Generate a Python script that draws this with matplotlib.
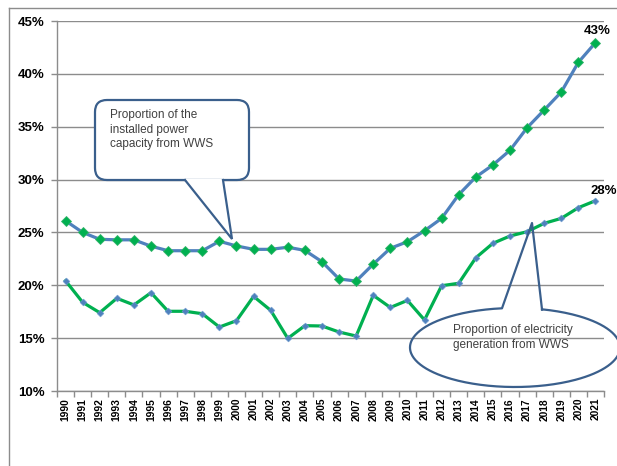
import numpy as np
import matplotlib
matplotlib.use("Agg")
import matplotlib.pyplot as plt
from matplotlib.patches import FancyBboxPatch, Polygon
from matplotlib.lines import Line2D

years = [str(y) for y in range(1990, 2022)]
capacity = [26.1, 25.0, 24.35, 24.3, 24.3, 23.7, 23.27, 23.27, 23.27, 24.16,
            23.72, 23.4, 23.4, 23.6, 23.3, 22.23, 20.6, 20.4, 22.0, 23.5,
            24.12, 25.16, 26.33, 28.57, 30.24, 31.38, 32.77, 34.9, 36.58, 38.28,
            41.09, 42.95]
generation = [20.43, 18.39, 17.41, 18.77, 18.14, 19.3, 17.54, 17.54, 17.31, 16.05,
              16.65, 18.95, 17.63, 14.98, 16.18, 16.15, 15.58, 15.2, 19.05, 17.9,
              18.57, 16.72, 19.96, 20.19, 22.6, 23.97, 24.66, 25.07, 25.86, 26.33,
              27.34, 28.0]
yticks = [10, 15, 20, 25, 30, 35, 40, 45]
end_labels = ["43%", "28%"]
capacity_text = "Proportion of the\ninstalled power\ncapacity from WWS"
generation_text = "Proportion of electricity\ngeneration from WWS"

W, H = 617, 466
plt.rcParams['font.family'] = ['Liberation Sans', 'DejaVu Sans']
fig = plt.figure(figsize=(W / 100, H / 100), dpi=100)

def px(x, y):
    return (x / W, 1 - y / H)

ax = fig.add_axes([57 / W, 1 - 391 / H, (604 - 57) / W, (391 - 21) / H])
x = np.arange(len(years))

BLUE = '#4F81BD'
GREEN = '#00B050'
ax.plot(x, capacity, color=BLUE, lw=2.3, marker='D', ms=5.5,
        markerfacecolor=GREEN, markeredgecolor='#33b36a', markeredgewidth=0.6, zorder=4)
ax.plot(x, generation, color=GREEN, lw=2.3, marker='D', ms=3.5,
        markerfacecolor=BLUE, markeredgecolor='#6f9bd0', markeredgewidth=0.4, zorder=4)

ax.set_xlim(-0.5, len(years) - 0.5)
ax.set_ylim(10, 45)
ax.set_yticks(yticks)
ax.set_yticklabels([f"{v}%" for v in yticks], fontsize=9.5, fontweight='bold')
ax.set_xticks(x)
ax.set_xticklabels(years, rotation=90, fontsize=7.4, fontweight='bold')
ax.set_xticks(np.arange(-0.5, len(years)), minor=True)
ax.tick_params(axis='x', which='major', length=0, pad=5)
ax.tick_params(axis='x', which='minor', length=4, color='#8c8c8c', width=1)
ax.tick_params(axis='y', length=4, color='#8c8c8c', width=1, pad=5)
ax.yaxis.grid(True, color='#8c8c8c', lw=1.0)
ax.set_axisbelow(True)
for s in ['top', 'right']:
    ax.spines[s].set_visible(False)
for s in ['left', 'bottom']:
    ax.spines[s].set_color('#8c8c8c')
    ax.spines[s].set_linewidth(1.0)

ax.annotate(end_labels[0], (x[-1], capacity[-1]), xytext=(1, 4), textcoords='offset points',
            ha='center', va='bottom', fontsize=9.5, fontweight='bold', zorder=6)
ax.annotate(end_labels[1], (x[-1], generation[-1]), xytext=(6, 3), textcoords='offset points',
            ha='center', va='bottom', fontsize=9.5, fontweight='bold', zorder=6)

# outer frame
fig.add_artist(Line2D([px(9, 8)[0], 1], [px(9, 8)[1]] * 2, color='#8c8c8c', lw=1.0))
fig.add_artist(Line2D([px(9, 8)[0]] * 2, [px(9, 8)[1], 0], color='#8c8c8c', lw=1.0))

EDGE = '#3A5F8C'
# rectangle callout
bx0, by0, bx1, by1 = 95, 100, 249, 180
box = FancyBboxPatch(px(bx0 + 12, by1 - 12), (bx1 - bx0 - 24) / W, (by1 - by0 - 24) / H,
                     boxstyle=f"round,pad={12 / W}", transform=fig.transFigure,
                     facecolor='white', edgecolor=EDGE, lw=1.6, zorder=7,
                     mutation_aspect=W / H)
fig.add_artist(box)
ptr = Polygon([px(185, 179), px(232, 239), px(223, 179)], closed=True,
              transform=fig.transFigure, facecolor='white', edgecolor='none', zorder=8)
fig.add_artist(ptr)
fig.add_artist(Line2D([px(185, 180)[0], px(232, 239)[0], px(223, 180)[0]],
                      [px(185, 180)[1], px(232, 239)[1], px(223, 180)[1]],
                      color=EDGE, lw=1.6, zorder=9, solid_joinstyle='miter'))
fig.text(*px(110, 109), capacity_text, ha='left', va='top', fontsize=8.5,
         color='#404040', linespacing=1.3, zorder=10)

# ellipse callout
cx, cy, rx, ry = 515, 347.5, 105, 39.5
xl, xr = 502, 542
tl = np.arccos((xl - cx) / rx)
tr = np.arccos((xr - cx) / rx)
th = np.linspace(-tr, 2 * np.pi - tl, 300)
ex = cx + rx * np.cos(th)
ey = cy + ry * np.sin(th)
pts = [(a, b) for a, b in zip(ex, ey)]
pts = pts + [(532, 223)] + [pts[0]]
fx = [p[0] / W for p in pts]
fy = [1 - p[1] / H for p in pts]
fig.add_artist(Line2D(fx, fy, color=EDGE, lw=1.6, zorder=9))
fig.text(*px(453, 324), generation_text, ha='left', va='top', fontsize=8.5,
         color='#404040', linespacing=1.3, zorder=10)

fig.savefig('out.png', dpi=100)
